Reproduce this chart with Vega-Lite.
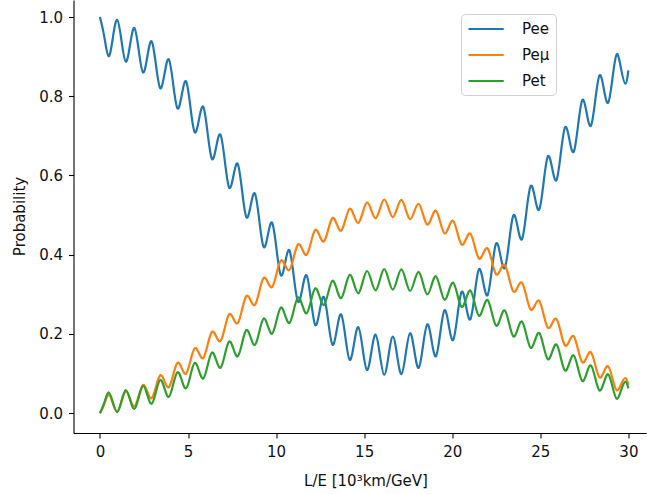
{
"$schema":"https://vega.github.io/schema/vega-lite/v6.json",
"width":572.5,"height":433,
"autosize":{"type":"none"},
"padding":{"left":73.5,"top":0,"right":1,"bottom":61},
"background":"white",
"config":{"view":{"stroke":null},"font":"DejaVu Sans",
"axis":{"grid":false,"domainColor":"#000","domainWidth":1.1,"tickColor":"#000","tickWidth":1.1,"tickSize":5,"labelFontSize":15,"labelColor":"#111","titleFontSize":15,"titleFontWeight":"normal","titleColor":"#111","labelPadding":6}},
"data":{"values":[
{"x":0,"Pee":1,"Pemu":0,"Pet":0},
{"x":0.245,"Pee":0.9511,"Pemu":0.0227,"Pet":0.0262},
{"x":0.489,"Pee":0.9012,"Pemu":0.0461,"Pet":0.0527},
{"x":0.734,"Pee":0.9475,"Pemu":0.0249,"Pet":0.0275},
{"x":0.978,"Pee":0.9931,"Pemu":0.0043,"Pet":0.0027},
{"x":1.223,"Pee":0.9406,"Pemu":0.0292,"Pet":0.0302},
{"x":1.467,"Pee":0.8873,"Pemu":0.0546,"Pet":0.0581},
{"x":1.712,"Pee":0.9303,"Pemu":0.0355,"Pet":0.0342},
{"x":1.956,"Pee":0.9723,"Pemu":0.0170,"Pet":0.0107},
{"x":2.201,"Pee":0.9166,"Pemu":0.0439,"Pet":0.0395},
{"x":2.445,"Pee":0.8601,"Pemu":0.0713,"Pet":0.0686},
{"x":2.690,"Pee":0.8998,"Pemu":0.0542,"Pet":0.0460},
{"x":2.934,"Pee":0.9387,"Pemu":0.0376,"Pet":0.0237},
{"x":3.179,"Pee":0.8798,"Pemu":0.0665,"Pet":0.0537},
{"x":3.423,"Pee":0.8203,"Pemu":0.0957,"Pet":0.0840},
{"x":3.668,"Pee":0.8571,"Pemu":0.0804,"Pet":0.0625},
{"x":3.912,"Pee":0.8932,"Pemu":0.0655,"Pet":0.0413},
{"x":4.157,"Pee":0.8316,"Pemu":0.0961,"Pet":0.0724},
{"x":4.401,"Pee":0.7694,"Pemu":0.1269,"Pet":0.1036},
{"x":4.646,"Pee":0.8037,"Pemu":0.1132,"Pet":0.0832},
{"x":4.890,"Pee":0.8374,"Pemu":0.0997,"Pet":0.0629},
{"x":5.135,"Pee":0.7736,"Pemu":0.1316,"Pet":0.0948},
{"x":5.379,"Pee":0.7092,"Pemu":0.1638,"Pet":0.1269},
{"x":5.624,"Pee":0.7414,"Pemu":0.1513,"Pet":0.1072},
{"x":5.868,"Pee":0.7733,"Pemu":0.1390,"Pet":0.0876},
{"x":6.113,"Pee":0.7077,"Pemu":0.1720,"Pet":0.1203},
{"x":6.357,"Pee":0.6418,"Pemu":0.2052,"Pet":0.1530},
{"x":6.602,"Pee":0.6726,"Pemu":0.1936,"Pet":0.1338},
{"x":6.846,"Pee":0.7030,"Pemu":0.1822,"Pet":0.1148},
{"x":7.091,"Pee":0.6364,"Pemu":0.2158,"Pet":0.1478},
{"x":7.335,"Pee":0.5694,"Pemu":0.2496,"Pet":0.1810},
{"x":7.580,"Pee":0.5993,"Pemu":0.2385,"Pet":0.1622},
{"x":7.824,"Pee":0.6292,"Pemu":0.2275,"Pet":0.1434},
{"x":8.069,"Pee":0.5620,"Pemu":0.2614,"Pet":0.1766},
{"x":8.313,"Pee":0.4946,"Pemu":0.2955,"Pet":0.2099},
{"x":8.558,"Pee":0.5244,"Pemu":0.2845,"Pet":0.1911},
{"x":8.802,"Pee":0.5541,"Pemu":0.2735,"Pet":0.1724},
{"x":9.047,"Pee":0.4870,"Pemu":0.3074,"Pet":0.2056},
{"x":9.291,"Pee":0.4200,"Pemu":0.3413,"Pet":0.2387},
{"x":9.536,"Pee":0.4502,"Pemu":0.3300,"Pet":0.2198},
{"x":9.780,"Pee":0.4805,"Pemu":0.3186,"Pet":0.2008},
{"x":10.025,"Pee":0.4142,"Pemu":0.3521,"Pet":0.2337},
{"x":10.269,"Pee":0.3482,"Pemu":0.3853,"Pet":0.2665},
{"x":10.514,"Pee":0.3794,"Pemu":0.3734,"Pet":0.2472},
{"x":10.758,"Pee":0.4111,"Pemu":0.3613,"Pet":0.2277},
{"x":11.003,"Pee":0.3461,"Pemu":0.3938,"Pet":0.2601},
{"x":11.247,"Pee":0.2815,"Pemu":0.4262,"Pet":0.2923},
{"x":11.492,"Pee":0.3145,"Pemu":0.4133,"Pet":0.2723},
{"x":11.736,"Pee":0.3479,"Pemu":0.4000,"Pet":0.2521},
{"x":11.981,"Pee":0.2848,"Pemu":0.4314,"Pet":0.2837},
{"x":12.225,"Pee":0.2224,"Pemu":0.4625,"Pet":0.3151},
{"x":12.470,"Pee":0.2576,"Pemu":0.4482,"Pet":0.2943},
{"x":12.714,"Pee":0.2933,"Pemu":0.4335,"Pet":0.2732},
{"x":12.959,"Pee":0.2328,"Pemu":0.4633,"Pet":0.3039},
{"x":13.203,"Pee":0.1729,"Pemu":0.4928,"Pet":0.3343},
{"x":13.448,"Pee":0.2108,"Pemu":0.4769,"Pet":0.3124},
{"x":13.692,"Pee":0.2493,"Pemu":0.4604,"Pet":0.2902},
{"x":13.937,"Pee":0.1916,"Pemu":0.4886,"Pet":0.3198},
{"x":14.181,"Pee":0.1347,"Pemu":0.5163,"Pet":0.3491},
{"x":14.426,"Pee":0.1756,"Pemu":0.4984,"Pet":0.3260},
{"x":14.670,"Pee":0.2172,"Pemu":0.4802,"Pet":0.3026},
{"x":14.915,"Pee":0.1627,"Pemu":0.5063,"Pet":0.3309},
{"x":15.159,"Pee":0.1091,"Pemu":0.5320,"Pet":0.3589},
{"x":15.404,"Pee":0.1532,"Pemu":0.5122,"Pet":0.3346},
{"x":15.648,"Pee":0.1982,"Pemu":0.4918,"Pet":0.3100},
{"x":15.893,"Pee":0.1472,"Pemu":0.5159,"Pet":0.3370},
{"x":16.137,"Pee":0.0970,"Pemu":0.5394,"Pet":0.3636},
{"x":16.382,"Pee":0.1446,"Pemu":0.5175,"Pet":0.3380},
{"x":16.626,"Pee":0.1931,"Pemu":0.4950,"Pet":0.3120},
{"x":16.871,"Pee":0.1455,"Pemu":0.5169,"Pet":0.3376},
{"x":17.115,"Pee":0.0987,"Pemu":0.5383,"Pet":0.3629},
{"x":17.360,"Pee":0.1499,"Pemu":0.5142,"Pet":0.3359},
{"x":17.604,"Pee":0.2019,"Pemu":0.4896,"Pet":0.3086},
{"x":17.849,"Pee":0.1577,"Pemu":0.5094,"Pet":0.3329},
{"x":18.093,"Pee":0.1144,"Pemu":0.5287,"Pet":0.3569},
{"x":18.338,"Pee":0.1690,"Pemu":0.5025,"Pet":0.3285},
{"x":18.582,"Pee":0.2243,"Pemu":0.4758,"Pet":0.2999},
{"x":18.827,"Pee":0.1835,"Pemu":0.4936,"Pet":0.3229},
{"x":19.071,"Pee":0.1434,"Pemu":0.5109,"Pet":0.3457},
{"x":19.316,"Pee":0.2012,"Pemu":0.4828,"Pet":0.3161},
{"x":19.560,"Pee":0.2596,"Pemu":0.4542,"Pet":0.2863},
{"x":19.805,"Pee":0.2218,"Pemu":0.4701,"Pet":0.3081},
{"x":20.049,"Pee":0.1847,"Pemu":0.4856,"Pet":0.3297},
{"x":20.294,"Pee":0.2453,"Pemu":0.4557,"Pet":0.2990},
{"x":20.538,"Pee":0.3065,"Pemu":0.4254,"Pet":0.2681},
{"x":20.783,"Pee":0.2714,"Pemu":0.4397,"Pet":0.2890},
{"x":21.027,"Pee":0.2368,"Pemu":0.4536,"Pet":0.3096},
{"x":21.272,"Pee":0.2998,"Pemu":0.4222,"Pet":0.2779},
{"x":21.516,"Pee":0.3634,"Pemu":0.3905,"Pet":0.2461},
{"x":21.761,"Pee":0.3305,"Pemu":0.4034,"Pet":0.2661},
{"x":22.005,"Pee":0.2982,"Pemu":0.4160,"Pet":0.2858},
{"x":22.250,"Pee":0.3631,"Pemu":0.3834,"Pet":0.2535},
{"x":22.494,"Pee":0.4286,"Pemu":0.3505,"Pet":0.2209},
{"x":22.739,"Pee":0.3973,"Pemu":0.3625,"Pet":0.2403},
{"x":22.983,"Pee":0.3663,"Pemu":0.3742,"Pet":0.2595},
{"x":23.228,"Pee":0.4327,"Pemu":0.3407,"Pet":0.2266},
{"x":23.472,"Pee":0.4993,"Pemu":0.3071,"Pet":0.1936},
{"x":23.717,"Pee":0.4692,"Pemu":0.3184,"Pet":0.2125},
{"x":23.961,"Pee":0.4391,"Pemu":0.3295,"Pet":0.2313},
{"x":24.206,"Pee":0.5063,"Pemu":0.2956,"Pet":0.1981},
{"x":24.450,"Pee":0.5735,"Pemu":0.2616,"Pet":0.1649},
{"x":24.695,"Pee":0.5438,"Pemu":0.2726,"Pet":0.1836},
{"x":24.939,"Pee":0.5140,"Pemu":0.2836,"Pet":0.2024},
{"x":25.184,"Pee":0.5813,"Pemu":0.2496,"Pet":0.1691},
{"x":25.428,"Pee":0.6485,"Pemu":0.2156,"Pet":0.1359},
{"x":25.673,"Pee":0.6185,"Pemu":0.2267,"Pet":0.1547},
{"x":25.917,"Pee":0.5884,"Pemu":0.2380,"Pet":0.1736},
{"x":26.162,"Pee":0.6552,"Pemu":0.2043,"Pet":0.1406},
{"x":26.406,"Pee":0.7217,"Pemu":0.1707,"Pet":0.1076},
{"x":26.651,"Pee":0.6908,"Pemu":0.1824,"Pet":0.1268},
{"x":26.895,"Pee":0.6598,"Pemu":0.1942,"Pet":0.1460},
{"x":27.140,"Pee":0.7254,"Pemu":0.1612,"Pet":0.1134},
{"x":27.384,"Pee":0.7905,"Pemu":0.1285,"Pet":0.0810},
{"x":27.629,"Pee":0.7583,"Pemu":0.1410,"Pet":0.1007},
{"x":27.873,"Pee":0.7255,"Pemu":0.1539,"Pet":0.1206},
{"x":28.118,"Pee":0.7894,"Pemu":0.1219,"Pet":0.0887},
{"x":28.362,"Pee":0.8526,"Pemu":0.0904,"Pet":0.0570},
{"x":28.607,"Pee":0.8184,"Pemu":0.1041,"Pet":0.0774},
{"x":28.851,"Pee":0.7836,"Pemu":0.1183,"Pet":0.0982},
{"x":29.096,"Pee":0.8451,"Pemu":0.0878,"Pet":0.0672},
{"x":29.340,"Pee":0.9060,"Pemu":0.0577,"Pet":0.0363},
{"x":29.585,"Pee":0.8692,"Pemu":0.0730,"Pet":0.0578},
{"x":29.829,"Pee":0.8317,"Pemu":0.0888,"Pet":0.0796},
{"x":30,"Pee":0.8654,"Pemu":0.0720,"Pet":0.0626}
]},
"transform":[{"fold":["Pee","Pemu","Pet"],"as":["series","p"]}],
"mark":{"type":"line","interpolate":"natural","strokeWidth":2.2},
"encoding":{
"x":{"field":"x","type":"quantitative","scale":{"domain":[-1.5,31.0],"nice":false,"zero":false},
"axis":{"values":[0,5,10,15,20,25,30],"format":"d","title":"L/E [10³km/GeV]","titleX":292,"titleY":47,"titleBaseline":"middle","titleAlign":"center"}},
"y":{"field":"p","type":"quantitative","scale":{"domain":[-0.05,1.043],"nice":false,"zero":false},
"axis":{"values":[0,0.2,0.4,0.6,0.8,1.0],"format":".1f","title":"Probability","titleX":-54,"titleY":216,"titleBaseline":"middle","titleAlign":"center","titleAngle":270}},
"color":{"field":"series","type":"nominal","scale":{"domain":["Pee","Pemu","Pet"],"range":["#1f77b4","#ff7f0e","#2ca02c"]},
"legend":{"title":null,"orient":"none","legendX":387.5,"legendY":14,"symbolType":"M-1,0H3.7","symbolSize":225,"symbolStrokeWidth":2.2,"labelFontSize":15,"labelColor":"#111","labelOffset":37,"labelExpr":"datum.label == 'Pemu' ? 'Peμ' : datum.label","strokeColor":"#d0d0d0","fillColor":"white","cornerRadius":4,"padding":6,"rowPadding":9}}
}
}
